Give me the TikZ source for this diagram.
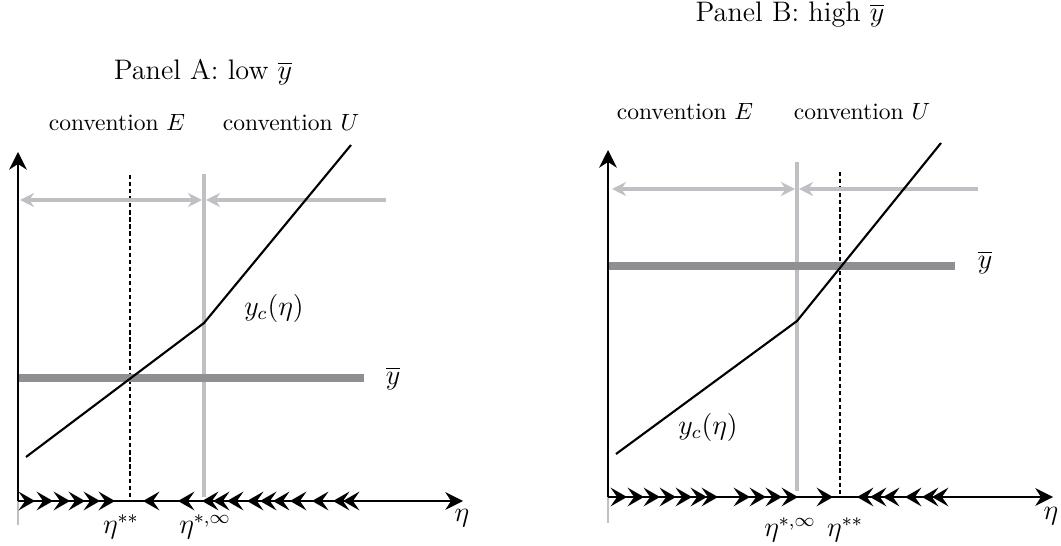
\documentclass[tikz,border=0pt]{standalone}
\usepackage{amsmath,amssymb}
\usepackage{xcolor}
\usetikzlibrary{arrows.meta,positioning,calc}
\definecolor{convgray}{RGB}{192,192,196}
\definecolor{bargray}{RGB}{142,142,147}
\newcommand{\ybar}{\overline{y}}

\begin{document}
\begin{tikzpicture}[x=0.425pt, y=-0.425pt, >=Stealth,
  axis/.style={line width=0.9pt, -{Stealth[length=7.5pt,width=7.5pt,inset=2.4pt]}},
  flowtip/.style={-{Stealth[length=7pt,width=8pt,inset=2.8pt]}, line width=0.6pt},
  convline/.style={convgray, line width=1.8pt, {Stealth[length=6pt,width=6pt,inset=2pt]}-{Stealth[length=6pt,width=6pt,inset=2pt]}},
  convleft/.style={convgray, line width=1.8pt, {Stealth[length=6pt,width=6pt,inset=2pt]}-},
  border/.style={convgray, line width=2pt},
  level/.style={bargray, line width=3.8pt},
  guide/.style={line width=0.6pt, dash pattern=on 1.8pt off 1.2pt},
  curve/.style={line width=0.9pt},
  stub/.style={convgray, line width=0.8pt},
  lab/.style={inner sep=1pt},
  mlab/.style={inner sep=1pt, font=\fontsize{11.5}{13}\selectfont}]
\useasboundingbox (0,0) rectangle (1061,546);

% ---------- Panel A ----------
\node[lab, font=\large] (titleA) at (203,72) {Panel A: low $\ybar$};
\node[lab] (convEA) at (117,123) {convention $E$};
\node[lab] (convUA) at (291,123) {convention $U$};
\coordinate (oA) at (18,501);
\coordinate (xA) at (463,501);
\coordinate (yA) at (18,152);
\draw[stub] (oA) -- (18,525);
\draw[guide] (130,175) -- (130,501);
\draw[border] (204,174) -- (204,497);
\draw[convline] (20,200) -- (202,200);
\draw[convleft] (206,200) -- (386,200);
\draw[level] (18,378) -- (364,378);
\draw[curve] (26,457) -- (204,323) -- (351,145);
\draw[axis] (oA) -- (xA);
\draw[axis] (oA) -- (yA);
\foreach \t in {35,53,70,85,100,115}
  \draw[flowtip] (\t-1,501) -- (\t,501);
\foreach \t in {143,178,202,213,227,247,260,273,290,312,333,343}
  \draw[flowtip] (\t+1,501) -- (\t,501);
\node[mlab] (ybarA) at (393,378) {$\ybar$};
\node[mlab] (ycA) at (274,308) {$y_c(\eta)$};
\node[mlab] (essA) at (121,527) {$\eta^{**}$};
\node[mlab] (estA) at (205,527) {$\eta^{*,\infty}$};
\node[mlab] (etaA) at (462,518) {$\eta$};

% ---------- Panel B ----------
\node[lab, font=\large] (titleB) at (790,15) {Panel B: high $\ybar$};
\node[lab] (convEB) at (685,112) {convention $E$};
\node[lab] (convUB) at (862,112) {convention $U$};
\coordinate (oB) at (608,497);
\coordinate (xB) at (1053,497);
\coordinate (yB) at (608,150);
\draw[stub, line width=0.5pt] (oB) -- (608,523);
\draw[border] (797,162) -- (797,491);
\draw[guide] (840,172) -- (840,497);
\draw[convline] (612,189) -- (795,189);
\draw[convleft] (799,189) -- (978,189);
\draw[level] (608,266) -- (955,266);
\draw[curve] (616,454) -- (797,321) -- (941,143);
\draw[axis] (oB) -- (xB);
\draw[axis] (oB) -- (yB);
\foreach \t in {627,644,660,676,692,707,718,750,766,782,798,833}
  \draw[flowtip] (\t-1,497) -- (\t,497);
\foreach \t in {857,870,883,905,922,932}
  \draw[flowtip] (\t+1,497) -- (\t,497);
\node[mlab] (ybarB) at (985,262) {$\ybar$};
\node[mlab] (ycB) at (708,427) {$y_c(\eta)$};
\node[mlab] (estB) at (790,530) {$\eta^{*,\infty}$};
\node[mlab] (essB) at (845,530) {$\eta^{**}$};
\node[mlab] (etaB) at (1051,516) {$\eta$};
\end{tikzpicture}
\end{document}
